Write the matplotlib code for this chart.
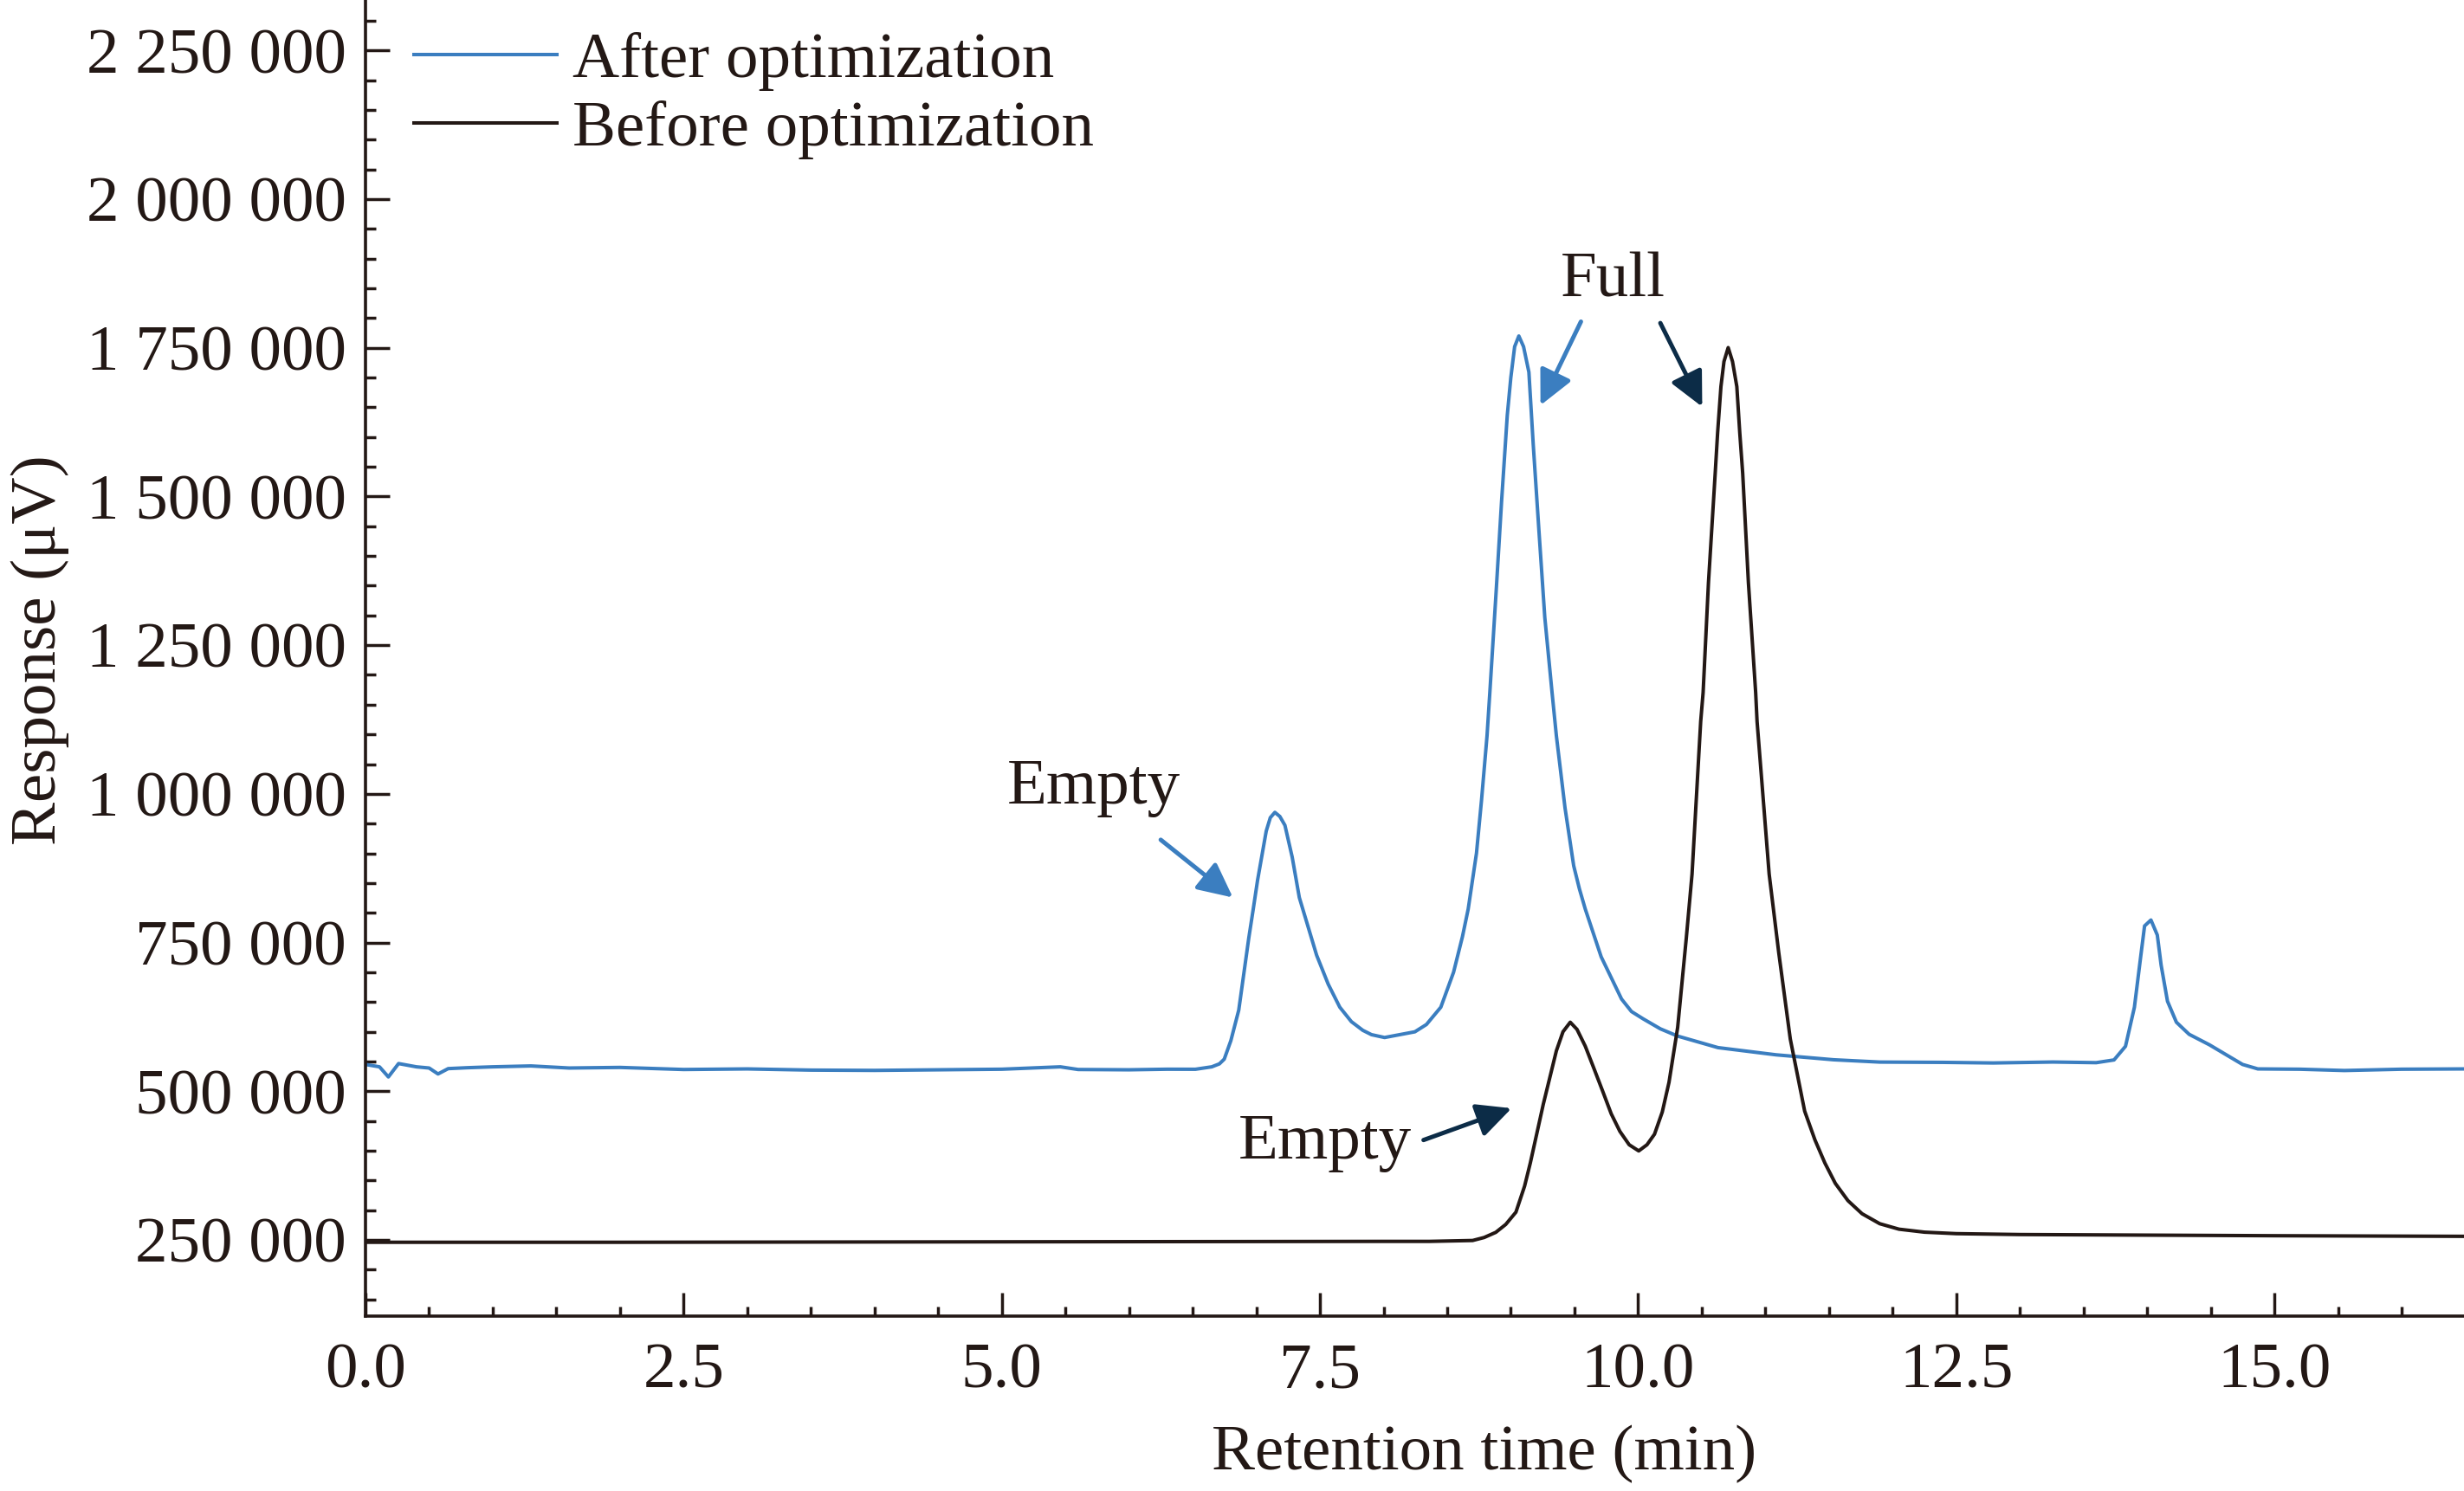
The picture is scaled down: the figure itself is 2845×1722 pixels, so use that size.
import matplotlib
matplotlib.use('Agg')
import matplotlib.pyplot as plt
from matplotlib.ticker import MultipleLocator, FuncFormatter

plt.rcParams['font.family'] = ['Liberation Serif', 'DejaVu Serif']

# ---------------- data ----------------
after_x = [0.0, 0.11, 0.18, 0.26, 0.40, 0.50, 0.57, 0.65, 0.80, 1.0, 1.3, 1.6, 2.0, 2.5,
           3.0, 3.5, 4.0, 4.5, 5.0, 5.46, 5.6, 6.0, 6.3, 6.521, 6.65, 6.71, 6.748, 6.80, 6.862,
           6.941, 6.976, 7.010, 7.078, 7.11, 7.146, 7.185, 7.225, 7.282, 7.338, 7.406,
           7.474, 7.565, 7.656, 7.747, 7.837, 7.905, 8.008, 8.246, 8.337, 8.45, 8.55, 8.62,
           8.665, 8.73, 8.77, 8.813, 8.835, 8.886, 8.927, 8.972, 9.00, 9.03, 9.063, 9.10,
           9.142, 9.176, 9.221, 9.267, 9.324, 9.358, 9.426, 9.494, 9.539, 9.585, 9.71, 9.87,
           9.948, 10.039, 10.175, 10.311, 10.628, 11.084, 11.536, 11.899, 12.4, 12.79, 13.26,
           13.6, 13.74, 13.83, 13.90, 13.95, 13.98, 14.03, 14.08, 14.11, 14.16, 14.23, 14.33,
           14.49, 14.63, 14.75, 14.87, 15.2, 15.55, 16.0, 16.49]
after_y = [545000, 541000, 524000, 546500, 541000, 539000, 529000, 538000, 539500, 541000,
           542500, 539000, 540000, 536500, 537500, 535500, 535000, 536000, 537000, 541000,
           536500, 536000, 537000, 536900, 541000, 546000, 553900, 585000, 636300, 757800,
           806300, 854800, 937400, 960000, 968900, 962000, 947100, 893700, 825700, 777200,
           728700, 680000, 641300, 617000, 602400, 595100, 590300, 599900, 612200, 641300,
           700000, 760000, 806300, 900000, 990000, 1097500, 1170300, 1345000, 1490700,
           1636300, 1700000, 1752000, 1769900, 1752000, 1709100, 1587800, 1442200, 1296600,
           1170300, 1097500, 976200, 879100, 840200, 806300, 726000, 655000, 634000, 621800,
           604900, 592700, 573300, 561200, 552900, 549000, 548500, 547500, 549100, 548000,
           552600, 575500, 641100, 727200, 777900, 787900, 762600, 712100, 651300, 616000,
           595700, 578000, 560200, 545000, 537500, 537000, 534800, 537000, 537500]

before_x = [0.0, 2.0, 4.0, 6.0, 8.0, 8.36, 8.70, 8.79, 8.882, 8.96, 9.040, 9.108, 9.153,
            9.255, 9.358, 9.41, 9.467, 9.52, 9.585, 9.65, 9.721, 9.789, 9.857, 9.93, 10.005,
            10.07, 10.129, 10.19, 10.243, 10.311, 10.379, 10.424, 10.492, 10.511, 10.553,
            10.606, 10.625, 10.651, 10.675, 10.708, 10.742, 10.776, 10.799, 10.822, 10.867,
            10.924, 10.935, 11.03, 11.105, 11.196, 11.309, 11.39, 11.468, 11.55, 11.649,
            11.76, 11.899, 12.05, 12.25, 12.5, 13.0, 14.0, 15.0, 16.49]
before_y = [246000, 246000, 246500, 247000, 247500, 247500, 249000, 254000, 262700, 276000,
            296600, 340300, 379200, 478000, 568000, 600000, 616000, 604000, 575700, 540000,
            500500, 462000, 432500, 410000, 399600, 410000, 427700, 465000, 515000, 607200,
            757800, 865000, 1121800, 1170300, 1355000, 1539200, 1607200, 1684800, 1727000,
            1750400, 1727000, 1684800, 1607200, 1539200, 1355000, 1170300, 1121800, 865000,
            733500, 587800, 466500, 418000, 379200, 345000, 316000, 294000, 277200, 268000,
            263000, 260500, 259000, 258000, 257000, 256000]

series_labels = ['After optimization', 'Before optimization']
peak_labels = ['Empty', 'Empty', 'Full']

# ---------------- style ----------------
BLUE = '#3b7ec0'
INK = '#231815'
NAVY = '#0c2c47'
FS = 27

fig = plt.figure(figsize=(14.225, 8.61), dpi=200)
W, H = 2845.0, 1722.0
ax = fig.add_axes([422 / W, 1 - 1520 / H, 1 - 422 / W, 1520 / H])

ax.plot(after_x, after_y, color=BLUE, lw=1.45, label=series_labels[0])
ax.plot(before_x, before_y, color=INK, lw=1.45, label=series_labels[1])

ax.set_xlim(0, 16.49)
ax.set_ylim(121850, 2334900)

ax.xaxis.set_major_locator(MultipleLocator(2.5))
ax.xaxis.set_minor_locator(MultipleLocator(0.5))
ax.yaxis.set_major_locator(MultipleLocator(250000))
ax.yaxis.set_minor_locator(MultipleLocator(50000))
ax.xaxis.set_major_formatter(FuncFormatter(lambda v, p: f'{v:.1f}'))
ax.yaxis.set_major_formatter(FuncFormatter(lambda v, p: f'{int(round(v)):,}'.replace(',', ' ')))

for s in ['top', 'right']:
    ax.spines[s].set_visible(False)
for s in ['left', 'bottom']:
    ax.spines[s].set_linewidth(1.3)
    ax.spines[s].set_color(INK)

ax.tick_params(axis='both', which='both', direction='in', color=INK, labelcolor=INK,
               labelsize=FS, width=1.25)
ax.tick_params(axis='y', which='major', length=10, pad=8)
ax.tick_params(axis='y', which='minor', length=4.3)
ax.tick_params(axis='x', which='major', length=9.6, pad=11)
ax.tick_params(axis='x', which='minor', length=3.8)

ax.set_xlabel('Retention time (min)', fontsize=FS, color=INK)
ax.set_ylabel('Response (μV)', fontsize=FS, color=INK)
ax.xaxis.set_label_coords(0.5332, -0.083)
ax.yaxis.set_label_coords(-0.1411, 0.506)

leg = ax.legend(loc='upper left', bbox_to_anchor=(478 / W, 1 - 36.5 / H),
                bbox_transform=fig.transFigure, frameon=False, fontsize=FS,
                handlelength=2.2, handletextpad=0.24, labelspacing=0.14,
                borderpad=0, borderaxespad=0)
for t in leg.get_texts():
    t.set_color(INK)

# ---------------- annotations ----------------
def arrow(tail, tip, color):
    ax.annotate('', xy=tip, xytext=tail,
                arrowprops=dict(arrowstyle='-|>,head_length=0.45,head_width=0.22',
                                lw=1.8, color=color, shrinkA=0, shrinkB=0,
                                mutation_scale=FS))

ax.text(5.722, 983900, peak_labels[0], ha='center', va='baseline', fontsize=FS, color=INK)
arrow((6.249, 922800), (6.816, 825700), BLUE)

ax.text(7.543, 386400, peak_labels[1], ha='center', va='baseline', fontsize=FS, color=INK)
arrow((8.314, 417900), (9.006, 471300), NAVY)

ax.text(9.806, 1835900, peak_labels[2], ha='center', va='baseline', fontsize=FS, color=INK)
arrow((9.551, 1794100), (9.233, 1653400), BLUE)
arrow((10.175, 1791700), (10.504, 1650900), NAVY)

fig.savefig('out.png', dpi=200)
